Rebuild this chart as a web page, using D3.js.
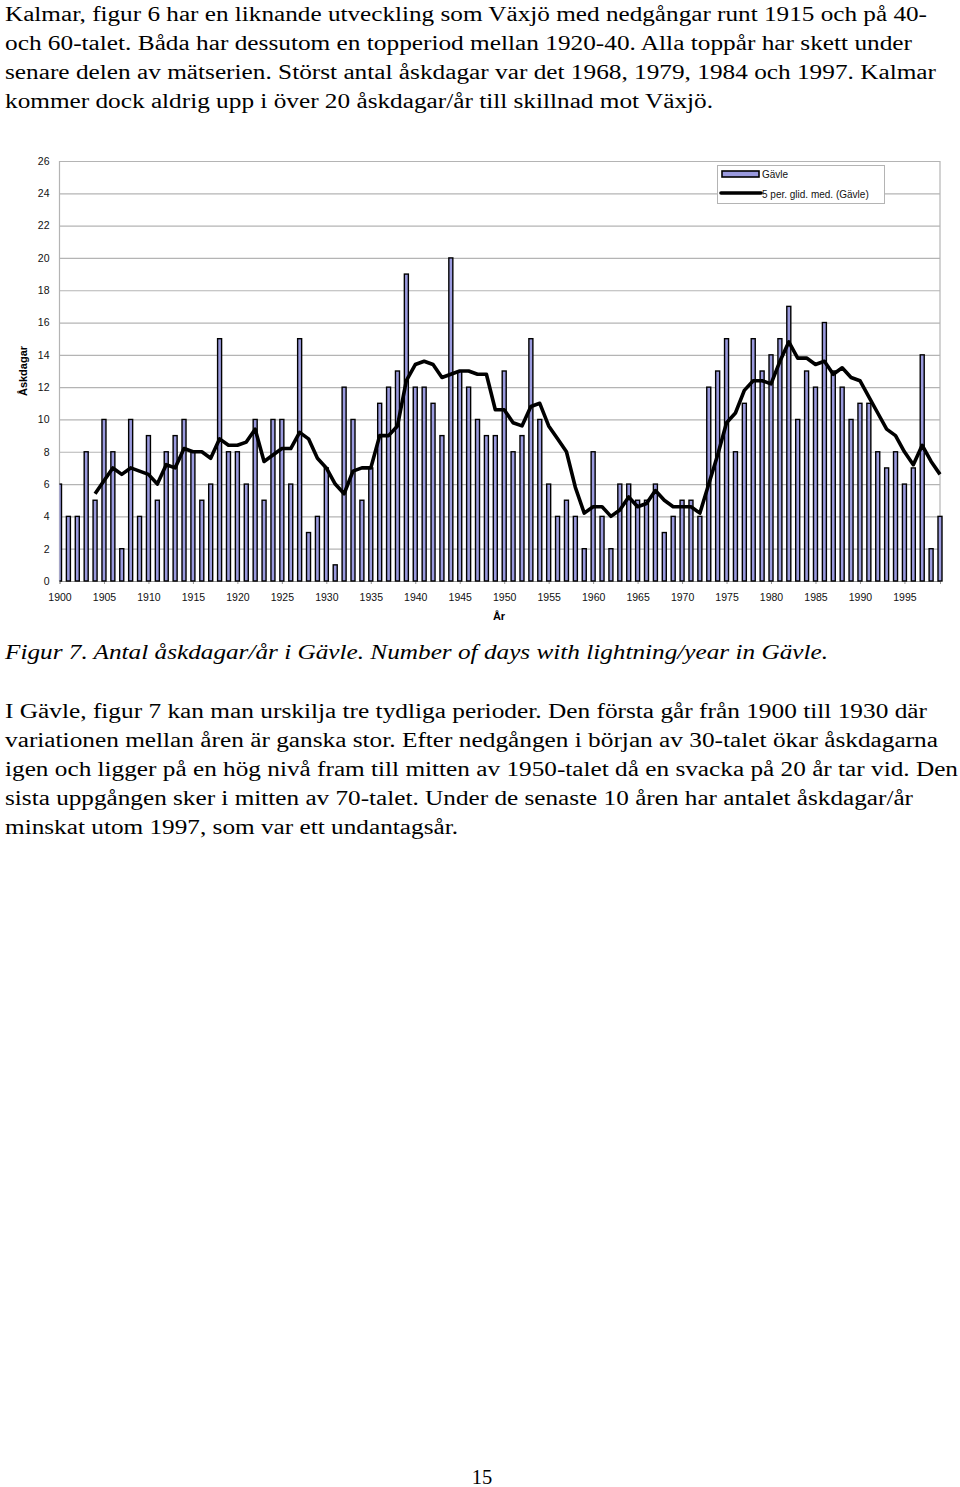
<!DOCTYPE html>
<html><head><meta charset="utf-8">
<script src="https://cdn.jsdelivr.net/npm/d3@7"></script>
<style>
html,body{margin:0;padding:0;background:#fff;}
svg{display:block;}
</style></head>
<body>
<svg id="page" width="960" height="1487"></svg>
<script>
const years = d3.range(1900, 2000);
const gavle = [6,4,4,8,5,10,8,2,10,4, 9,5,8,9,10,8,5,6,15,8, 8,6,10,5,10,10,6,15,3,4,
  7,1,12,10,5,7,11,12,13,19, 12,12,11,9,20,13,12,10,9,9, 13,8,9,15,10,6,4,5,4,2,
  8,4,2,6,6,5,5,6,3,4, 5,5,4,12,13,15,8,11,15,13, 14,15,17,10,13,12,16,13,12,10,
  11,11,8,7,8,6,7,14,2,4];
const maYears = d3.range(1904, 2000);
const maValues = [5.4,6.2,7.0,6.6,7.0,6.8, 6.6,6.0,7.2,7.0,8.2,8.0,8.0,7.6,8.8,8.4,
  8.4,8.6,9.4,7.4,7.8,8.2,8.2,9.2,8.8,7.6, 7.0,6.0,5.4,6.8,7.0,7.0,9.0,9.0,9.6,12.4,
  13.4,13.6,13.4,12.6,12.8,13.0,13.0,12.8,12.8,10.6, 10.6,9.8,9.6,10.8,11.0,9.6,8.8,8.0,5.8,4.2,
  4.6,4.6,4.0,4.4,5.2,4.6,4.8,5.6,5.0,4.6, 4.6,4.6,4.2,6.0,7.8,9.8,10.4,11.8,12.4,12.4,
  12.2,13.6,14.8,13.8,13.8,13.4,13.6,12.8,13.2,12.6, 12.4,11.4,10.4,9.4,9.0,8.0,7.2,8.4,7.4,6.6];
const yTicks = d3.range(0, 27, 2);
const xTicks = d3.range(1900, 2000, 5);
const legendLabels = ["Gävle", "5 per. glid. med. (Gävle)"];

const topText = [
  "Kalmar, figur 6 har en liknande utveckling som Växjö med nedgångar runt 1915 och på 40-",
  "och 60-talet. Båda har dessutom en topperiod mellan 1920-40. Alla toppår har skett under",
  "senare delen av mätserien. Störst antal åskdagar var det 1968, 1979, 1984 och 1997. Kalmar",
  "kommer dock aldrig upp i över 20 åskdagar/år till skillnad mot Växjö."
];
const topWidths = [922, 907, 931, 708];
const caption = "Figur 7. Antal åskdagar/år i Gävle. Number of days with lightning/year in Gävle.";
const para = [
  "I Gävle, figur 7 kan man urskilja tre tydliga perioder. Den första går från 1900 till 1930 där",
  "variationen mellan åren är ganska stor. Efter nedgången i början av 30-talet ökar åskdagarna",
  "igen och ligger på en hög nivå fram till mitten av 1950-talet då en svacka på 20 år tar vid. Den",
  "sista uppgången sker i mitten av 70-talet. Under de senaste 10 åren har antalet åskdagar/år",
  "minskat utom 1997, som var ett undantagsår."
];
const paraWidths = [922, 933, 953, 908, 453];

const svg = d3.select("#page");
const serif = "'Liberation Serif','Times New Roman',serif";
const sans = "'Liberation Sans',Arial,sans-serif";

// top paragraph
svg.append("g").selectAll("text").data(topText).join("text")
  .attr("x", 5).attr("y", (d,i) => 21 + i*29)
  .attr("font-family", serif).attr("font-size", 20.5).attr("fill", "#000")
  .attr("textLength", (d,i) => topWidths[i]).attr("lengthAdjust", "spacingAndGlyphs")
  .text(d => d);

// chart
const L = 59.5, R = 940, T = 161, B = 581;
const x = d3.scaleLinear().domain([1900, 1999]).range([L, R]);
const y = d3.scaleLinear().domain([0, 26]).range([B, T]);

const chart = svg.append("g");
// gridlines + y labels
const yAxis = chart.append("g").attr("transform", `translate(${L},0)`)
  .call(d3.axisLeft(y).tickValues(yTicks).tickSize(-(R - L)).tickPadding(10));
yAxis.select(".domain").remove();
yAxis.selectAll(".tick line").attr("stroke", "#b4b4b4").attr("stroke-width", 1.2);
yAxis.selectAll(".tick text").attr("font-family", sans).attr("font-size", 10.5).attr("fill", "#111");

// borders
chart.append("line").attr("x1", L).attr("x2", L).attr("y1", T).attr("y2", B).attr("stroke", "#b4b4b4").attr("stroke-width", 1.2);
chart.append("line").attr("x1", R).attr("x2", R).attr("y1", T).attr("y2", B).attr("stroke", "#b4b4b4").attr("stroke-width", 1.2);

// x axis
const xAxis = chart.append("g").attr("transform", `translate(0,${B})`)
  .call(d3.axisBottom(x).tickValues(xTicks).tickFormat(d3.format("d")).tickSize(3).tickPadding(10));
xAxis.select(".domain").attr("stroke", "#999");
xAxis.selectAll(".tick line").attr("stroke", "#999");
xAxis.selectAll(".tick text").attr("font-family", sans).attr("font-size", 10.5).attr("fill", "#111");

// clip for bars
svg.append("defs").append("clipPath").attr("id", "clip")
  .append("rect").attr("x", L).attr("y", 0).attr("width", 960 - L).attr("height", B + 1);

const bw = 4;
chart.append("g").attr("clip-path", "url(#clip)").selectAll("rect").data(years).join("rect")
  .attr("x", d => x(d) - bw/2)
  .attr("y", (d,i) => y(gavle[i]))
  .attr("width", bw)
  .attr("height", (d,i) => y(0) - y(gavle[i]))
  .attr("fill", "#9a9ade").attr("stroke", "#000").attr("stroke-width", 1.4);

// moving average line
chart.append("path")
  .datum(maYears.map((yr,i) => [yr, maValues[i]]))
  .attr("d", d3.line().x(d => x(d[0])).y(d => y(d[1])))
  .attr("fill", "none").attr("stroke", "#000").attr("stroke-width", 3.6)
  .attr("stroke-linejoin", "round");

// legend
const lg = chart.append("g");
lg.append("rect").attr("x", 717.5).attr("y", 165.5).attr("width", 167).attr("height", 38)
  .attr("fill", "#fff").attr("stroke", "#b4b4b4").attr("stroke-width", 1);
lg.append("rect").attr("x", 722).attr("y", 171).attr("width", 37).attr("height", 6)
  .attr("fill", "#9a9ade").attr("stroke", "#000").attr("stroke-width", 1.6);
lg.append("line").attr("x1", 721).attr("x2", 761).attr("y1", 193).attr("y2", 193)
  .attr("stroke", "#000").attr("stroke-width", 3.6).attr("stroke-linecap", "round");
lg.selectAll("text").data(legendLabels).join("text")
  .attr("x", 762).attr("y", (d,i) => 178 + i*19.5)
  .attr("font-family", sans).attr("font-size", 10).attr("fill", "#111")
  .text(d => d);

// axis titles
chart.append("text").attr("transform", `translate(27,${(T + B) / 2}) rotate(-90)`)
  .attr("text-anchor", "middle").attr("font-family", sans).attr("font-size", 11)
  .attr("font-weight", "bold").text("Åskdagar");
chart.append("text").attr("x", 499).attr("y", 620)
  .attr("text-anchor", "middle").attr("font-family", sans).attr("font-size", 11)
  .attr("font-weight", "bold").text("År");

// caption
svg.append("text").attr("x", 5).attr("y", 659)
  .attr("font-family", serif).attr("font-size", 20.5).attr("font-style", "italic")
  .attr("textLength", 823).attr("lengthAdjust", "spacingAndGlyphs")
  .text(caption);

// body paragraph
svg.append("g").selectAll("text").data(para).join("text")
  .attr("x", 5).attr("y", (d,i) => 718 + i*29)
  .attr("font-family", serif).attr("font-size", 20.5).attr("fill", "#000")
  .attr("textLength", (d,i) => paraWidths[i]).attr("lengthAdjust", "spacingAndGlyphs")
  .text(d => d);

// page number
svg.append("text").attr("x", 482).attr("y", 1484).attr("text-anchor", "middle")
  .attr("font-family", serif).attr("font-size", 20.5).text("15");
</script>
</body></html>
